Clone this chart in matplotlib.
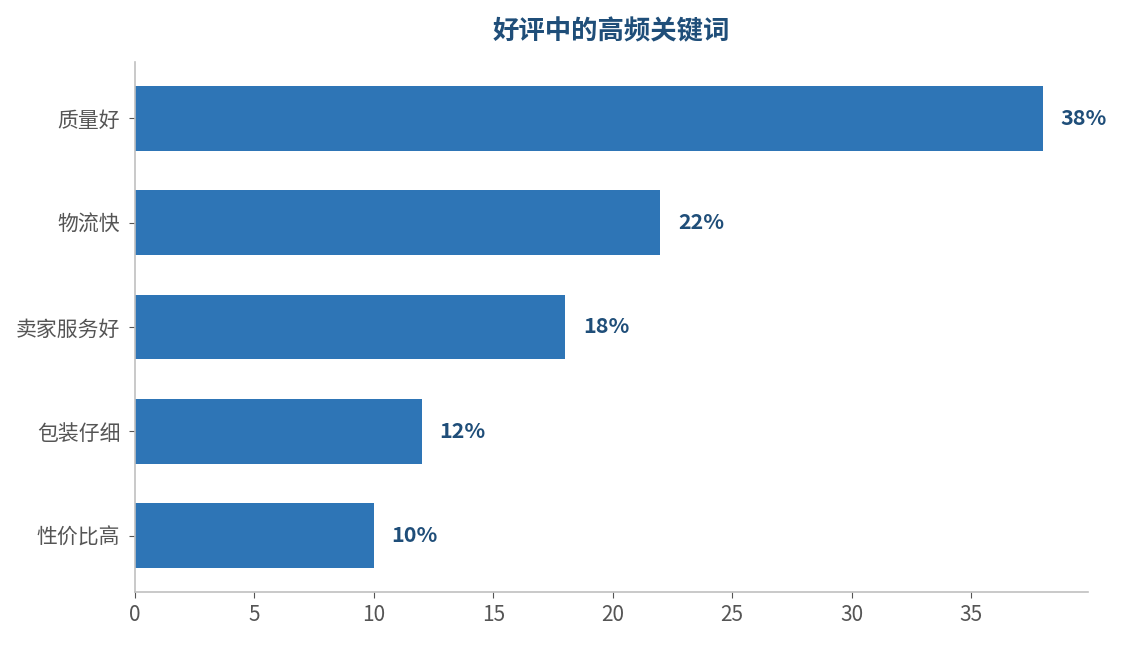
import matplotlib
matplotlib.use("Agg")
import matplotlib.pyplot as plt

plt.rcParams['font.family'] = ['Noto Sans CJK SC', 'DejaVu Sans']

keywords = ["质量好", "物流快", "卖家服务好", "包装仔细", "性价比高"]
shares = [38, 22, 18, 12, 10]
labels = ["38%", "22%", "18%", "12%", "10%"]

bar_color = "#2e75b6"
dark_blue = "#1f4e79"
grey = "#c0c0c0"

fig = plt.figure(figsize=(11.22, 6.45), dpi=100)
ax = fig.add_axes([0.1203, 0.0822, 0.8494, 0.8217])

ax.barh(keywords, shares, height=0.62, color=bar_color)
ax.invert_yaxis()
ax.set_xlim(0, max(shares) * 1.05)

for i, (v, lab) in enumerate(zip(shares, labels)):
    ax.text(v + 0.75, i, lab, va="center", ha="left", fontsize=15.5,
            fontweight="bold", color=dark_blue)

ax.set_title("好评中的高频关键词", fontsize=19, fontweight="bold",
             color=dark_blue, pad=16)

for s in ["top", "right"]:
    ax.spines[s].set_visible(False)
for s in ["left", "bottom"]:
    ax.spines[s].set_color(grey)
    ax.spines[s].set_linewidth(1.2)

ax.tick_params(axis="y", colors="#555555", labelsize=15, length=4.5, pad=6)
ax.tick_params(axis="x", colors="#555555", labelsize=15, length=4.5, pad=4)

fig.savefig("out.png", dpi=100)
